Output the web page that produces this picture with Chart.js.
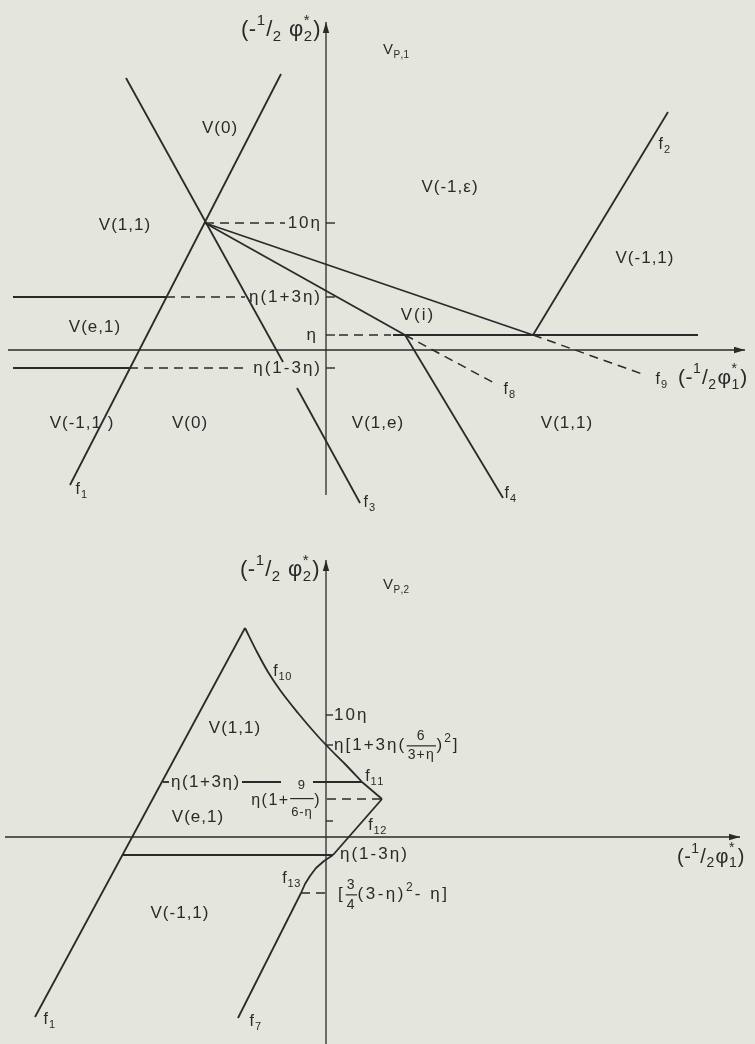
<!DOCTYPE html>
<html><head><meta charset="utf-8">
<script src="https://cdn.jsdelivr.net/npm/chart.js@4.4.1/dist/chart.umd.min.js"></script>
<style>
html,body{margin:0;padding:0;background:#e4e5dd;}
#wrap{position:relative;width:755px;height:1044px;overflow:hidden;background:#e4e5dd;}
canvas{position:absolute;left:0;}
</style></head><body>
<div id="wrap">
<canvas id="c1" width="755" height="520" style="top:0px"></canvas>
<canvas id="c2" width="755" height="524" style="top:520px"></canvas>
</div>
<script>
// ===== Diagram 1 (V_P,1) : line data in diagram units =====
const p1AxisH = [[-31.8,0],[41.9,0]];
const p1AxisV = [[0,-14.5],[0,32.8]];
const p1F1 = [[-25.6,-13.5],[-4.5,27.6]];
const p1F3a = [[-20.0,27.2],[-4.3,-1.2]];
const p1F3b = [[-2.9,-3.8],[3.4,-15.3]];
const p1F9 = [[-12.1,12.7],[20.7,1.5]];
const p1F9dash = [[20.7,1.5],[31.9,-2.5]];
const p1F8 = [[-12.1,12.7],[7.9,1.5]];
const p1F8dash = [[7.9,1.5],[17.0,-3.4]];
const p1F4 = [[7.9,1.5],[17.7,-14.8]];
const p1F2 = [[20.7,1.5],[34.2,23.8]];
const p1Eta = [[6.7,1.5],[37.2,1.5]];
const p1EtaDash = [[1.3,1.5],[6.5,1.5]];
const p1Eta13p = [[-31.3,5.3],[-16.0,5.3]];
const p1Eta13pDash = [[-16.0,5.3],[-8.1,5.3]];
const p1Eta13m = [[-31.3,-1.8],[-19.7,-1.8]];
const p1Eta13mDash = [[-19.7,-1.8],[-8.3,-1.8]];
const p1TenEtaDash = [[-12.1,12.7],[-4.1,12.7]];
const p1TickLevels = [12.7, 5.3, 1.5, -1.8];
const p1TickLabels = ['10η', 'η(1+3η)', 'η', 'η(1-3η)'];
const p1Regions = ['V(0)', 'V(1,1)', 'V(-1,ε)', 'V(-1,1)', 'V(e,1)', 'V(i)', 'V(-1,1 )', 'V(0)', 'V(1,e)', 'V(1,1)'];
const p1Curves = ['f_{1}', 'f_{2}', 'f_{3}', 'f_{4}', 'f_{8}', 'f_{9}'];

// ===== Diagram 2 (V_P,2) =====
const p2AxisH = [[-32.1,0],[41.4,0]];
const p2AxisV = [[0,-20.7],[0,27.7]];
const p2F1 = [[-29.1,-18.0],[-8.1,20.9]];
const p2F10 = [[-8.1,20.9],[-6.9,18.5],[-5.8,16.5],[-4.6,14.7],[-2.8,12.4],[-1.1,10.4],[0.1,9.1],[1.9,7.3],[3.6,5.5]];
const p2F11 = [[3.6,5.5],[5.6,3.8]];
const p2F12 = [[5.6,3.8],[0.7,-1.8]];
const p2F13 = [[0.7,-1.8],[-0.2,-2.4],[-1.0,-3.1],[-1.6,-3.9],[-2.1,-4.7],[-2.5,-5.6]];
const p2F7 = [[-2.5,-5.6],[-8.8,-18.1]];
const p2Eta13pA = [[-16.3,5.5],[-15.7,5.5]];
const p2Eta13pB = [[-8.4,5.5],[-4.5,5.5]];
const p2Eta13pC = [[-1.3,5.5],[3.6,5.5]];
const p2Eta13m = [[-20.3,-1.8],[0.7,-1.8]];
const p2NineDash = [[0.1,3.8],[5.6,3.8]];
const p2LowDash = [[-2.5,-5.6],[0,-5.6]];
const p2TickLevels = [12.2, 9.2, 1.6];
const p2TickLabels = ['10η', 'η[1+3η(\\f{6}{3+η})^{2}]', 'η(1+3η)', 'η(1+\\f{9}{6-η})', 'η(1-3η)', '[\\f{3}{4}(3-η)^{2}- η]'];
const p2Regions = ['V(1,1)', 'V(e,1)', 'V(-1,1)'];
const p2Curves = ['f_{1}', 'f_{7}', 'f_{10}', 'f_{11}', 'f_{12}', 'f_{13}'];

const axisTitle2 = '(-^{1}/_{2} φ\\s{*}{2})';
const axisTitle1 = '(-^{1}/_{2}φ\\s{*}{1})';

// ===== styling =====
const FONT = '"Liberation Sans", "DejaVu Sans", sans-serif';
const INK = '#2a2a2a';

function pts(a){ return a.map(p => ({x:p[0], y:p[1]})); }
function ds(data, o){
  o = o || {};
  const d = {data: pts(data), showLine:true, pointRadius:0, pointHoverRadius:0,
    borderColor:INK, borderWidth:o.w || 1.8, borderDash:o.dash || [],
    tension:o.t || 0, fill:false, borderCapStyle:'butt', borderJoinStyle:'round'};
  if(o.mono) d.cubicInterpolationMode = 'monotone';
  return d;
}
const DASH = [9,6];

function parseRich(s){
  const out=[]; let buf=''; let i=0;
  const flush=()=>{ if(buf){ out.push({k:'t', a:buf}); buf=''; } };
  const grab=()=>{ let depth=0, start=i+1;
    for(; i<s.length; i++){ if(s[i]==='{') depth++; else if(s[i]==='}'){ depth--; if(depth===0){ const r=s.slice(start,i); i++; return r; } } }
    return s.slice(start); };
  while(i<s.length){
    const c=s[i];
    if((c==='_'||c==='^') && s[i+1]==='{'){ flush(); i++; out.push({k: c==='_'?'sub':'sup', a: grab()}); }
    else if(c==='\\' && (s[i+1]==='f'||s[i+1]==='s') && s[i+2]==='{'){ flush(); const k = s[i+1]==='f'?'frac':'stack'; i+=2; const a=grab(); const b=grab(); out.push({k, a, b}); }
    else { buf+=c; i++; }
  }
  flush(); return out;
}
function tw(ctx, str, ls){ let w=0; for(const ch of str) w += ctx.measureText(ch).width + ls; return w; }
function dt(ctx, str, x, y, ls){ for(const ch of str){ ctx.fillText(ch, x, y); x += ctx.measureText(ch).width + ls; } }

function drawRich(ctx, it, px, py){
  const S = it.s || 17, sm = Math.round(S*0.68), fr = Math.round(S*0.8);
  const ls = it.ls === undefined ? 1 : it.ls;
  const fu = it.fu || 0.5, fd = it.fd || 0.6;
  const f = sz => sz + 'px ' + FONT;
  const toks = parseRich(it.t);
  const widths = toks.map(tk => {
    if(tk.k==='t'){ ctx.font=f(S); return tw(ctx, tk.a, ls); }
    if(tk.k==='sub'||tk.k==='sup'){ ctx.font=f(sm); return tw(ctx, tk.a, ls*0.5)+1; }
    if(tk.k==='frac'){ ctx.font=f(fr); return Math.max(tw(ctx, tk.a, ls*0.6), tw(ctx, tk.b, ls*0.6))+3; }
    ctx.font=f(sm); return Math.max(tw(ctx, tk.a, 0), tw(ctx, tk.b, 0))+1;
  });
  const W = widths.reduce((a,b)=>a+b, 0);
  let x = it.a==='right' ? px-W : (it.a==='left' ? px : px-W/2);
  ctx.textBaseline='middle'; ctx.textAlign='left'; ctx.fillStyle=INK;
  toks.forEach((tk,j) => {
    const w = widths[j];
    if(tk.k==='t'){ ctx.font=f(S); dt(ctx, tk.a, x, py, ls); }
    else if(tk.k==='sub'){ ctx.font=f(sm); dt(ctx, tk.a, x, py+S*0.33, ls*0.5); }
    else if(tk.k==='sup'){ ctx.font=f(sm); dt(ctx, tk.a, x, py-S*0.4, ls*0.5); }
    else if(tk.k==='stack'){ ctx.font=f(sm); ctx.fillText(tk.a, x, py-S*0.42); ctx.fillText(tk.b, x, py+S*0.33); }
    else if(tk.k==='frac'){
      ctx.font=f(fr);
      const wa=tw(ctx, tk.a, ls*0.6), wb=tw(ctx, tk.b, ls*0.6);
      const ny=py-S*fu, dy=py+S*fd;
      dt(ctx, tk.a, x+(w-wa)/2, ny, ls*0.6); dt(ctx, tk.b, x+(w-wb)/2, dy, ls*0.6);
      ctx.fillRect(x+0.5, (ny+dy)/2-0.6, w-1, 1.2);
    }
    x += w;
  });
}

const richPlugin = {
  id:'richLabels',
  afterDatasetsDraw(chart, args, opts){
    const ctx=chart.ctx, sx=chart.scales.x, sy=chart.scales.y;
    ctx.save();
    (opts.items||[]).forEach(it => drawRich(ctx, it, sx.getPixelForValue(it.x), sy.getPixelForValue(it.y)));
    ctx.restore();
  }
};
const arrowPlugin = {
  id:'arrows',
  afterDatasetsDraw(chart, args, opts){
    const ctx=chart.ctx, sx=chart.scales.x, sy=chart.scales.y;
    ctx.save(); ctx.fillStyle=INK;
    (opts.items||[]).forEach(a => {
      const x0=sx.getPixelForValue(a[0][0]), y0=sy.getPixelForValue(a[0][1]);
      const x1=sx.getPixelForValue(a[1][0]), y1=sy.getPixelForValue(a[1][1]);
      const ang=Math.atan2(y1-y0, x1-x0), L=11, H=3.2;
      ctx.beginPath();
      ctx.moveTo(x1, y1);
      ctx.lineTo(x1-L*Math.cos(ang)+H*Math.sin(ang), y1-L*Math.sin(ang)-H*Math.cos(ang));
      ctx.lineTo(x1-L*Math.cos(ang)-H*Math.sin(ang), y1-L*Math.sin(ang)+H*Math.cos(ang));
      ctx.closePath(); ctx.fill();
    });
    ctx.restore();
  }
};

function makeChart(id, yMin, yMax, datasets, items, arrows){
  return new Chart(document.getElementById(id), {
    type:'scatter',
    data:{datasets},
    options:{
      responsive:false, animation:false, events:[],
      layout:{padding:0},
      scales:{
        x:{type:'linear', min:-32.6, max:42.9, display:false},
        y:{type:'linear', min:yMin, max:yMax, display:false}
      },
      plugins:{legend:{display:false}, tooltip:{enabled:false},
        richLabels:{items}, arrows:{items:arrows}}
    },
    plugins:[richPlugin, arrowPlugin]
  });
}

// ----- diagram 1 -----
const d1 = [
  ds(p1AxisH,{w:1.4}), ds(p1AxisV,{w:1.3}),
  ds(p1F1), ds(p1F3a), ds(p1F3b), ds(p1F9), ds(p1F8), ds(p1F4), ds(p1F2),
  ds(p1Eta), ds(p1Eta13p,{w:2}), ds(p1Eta13m,{w:2}),
  ds(p1F9dash,{w:1.5,dash:DASH}), ds(p1F8dash,{w:1.5,dash:DASH}),
  ds(p1EtaDash,{w:1.5,dash:DASH}), ds(p1Eta13pDash,{w:1.5,dash:DASH}),
  ds(p1Eta13mDash,{w:1.5,dash:DASH}), ds(p1TenEtaDash,{w:1.5,dash:DASH})
].concat(p1TickLevels.map(v => ds([[0,v],[0.9,v]],{w:1.4})));

const l1 = [
  {t:axisTitle2, x:-0.5, y:32.0, a:'right', s:22, ls:0.5},
  {t:'V_{P,1}', x:5.7, y:30.0, a:'left', s:15, ls:0.5},
  {t:p1Regions[0], x:-10.6, y:22.2},
  {t:p1Regions[1], x:-20.1, y:12.5},
  {t:p1Regions[2], x:12.4, y:16.3},
  {t:p1Regions[3], x:31.9, y:9.2},
  {t:p1Regions[4], x:-23.1, y:2.3},
  {t:p1Regions[5], x:9.2, y:3.5, ls:2},
  {t:p1Regions[6], x:-24.4, y:-7.3},
  {t:p1Regions[7], x:-13.6, y:-7.3},
  {t:p1Regions[8], x:5.2, y:-7.3},
  {t:p1Regions[9], x:24.1, y:-7.3},
  {t:p1Curves[0], x:-24.4, y:-14.0, s:16},
  {t:p1Curves[1], x:33.9, y:20.5, s:16},
  {t:p1Curves[2], x:4.4, y:-15.3, s:16},
  {t:p1Curves[3], x:18.5, y:-14.4, s:16},
  {t:p1Curves[4], x:18.4, y:-4.0, s:16},
  {t:p1Curves[5], x:33.6, y:-3.0, s:16},
  {t:axisTitle1, x:35.2, y:-2.8, a:'left', s:21, ls:0.5},
  {t:p1TickLabels[0], x:-0.4, y:p1TickLevels[0], a:'right', s:17, ls:2},
  {t:p1TickLabels[1], x:-0.4, y:p1TickLevels[1], a:'right', s:17, ls:2},
  {t:p1TickLabels[2], x:-0.8, y:p1TickLevels[2], a:'right', s:17, ls:2},
  {t:p1TickLabels[3], x:-0.4, y:p1TickLevels[3], a:'right', s:17, ls:2}
];
makeChart('c1', -17.0, 35.0, d1, l1, [p1AxisH, p1AxisV]);

// ----- diagram 2 -----
const d2 = [
  ds(p2AxisH,{w:1.4}), ds(p2AxisV,{w:1.3}),
  ds(p2F1), ds(p2F10,{mono:true}), ds(p2F11), ds(p2F12), ds(p2F13), ds(p2F7),
  ds(p2Eta13pA), ds(p2Eta13pB), ds(p2Eta13pC), ds(p2Eta13m,{w:2}),
  ds(p2NineDash,{w:1.5,dash:DASH}), ds(p2LowDash,{w:1.5,dash:DASH})
].concat(p2TickLevels.map(v => ds([[0,v],[0.7,v]],{w:1.4})));

const l2 = [
  {t:axisTitle2, x:-0.6, y:26.7, a:'right', s:22, ls:0.5},
  {t:'V_{P,2}', x:5.7, y:25.2, a:'left', s:15, ls:0.5},
  {t:p2Curves[2], x:-4.3, y:16.5, s:16},
  {t:p2Regions[0], x:-9.1, y:10.9},
  {t:p2TickLabels[0], x:0.8, y:p2TickLevels[0], a:'left', s:17, ls:2},
  {t:p2TickLabels[1], x:0.8, y:p2TickLevels[1], a:'left', s:17, ls:2},
  {t:p2TickLabels[2], x:-15.5, y:5.5, a:'left', s:17, ls:1.5},
  {t:p2TickLabels[3], x:-0.5, y:3.6, a:'right', s:16, fu:1.0, fd:0.7, ls:1.5},
  {t:p2Regions[1], x:-12.8, y:2.0},
  {t:p2Curves[3], x:4.9, y:6.0, s:16},
  {t:p2Curves[4], x:5.2, y:1.1, s:16},
  {t:p2TickLabels[4], x:1.4, y:-1.7, a:'left', s:17, ls:2},
  {t:p2Curves[5], x:-3.4, y:-4.2, s:16},
  {t:p2TickLabels[5], x:1.2, y:-5.7, a:'left', s:17, fu:0.55, fd:0.65, ls:2.5},
  {t:p2Regions[2], x:-14.6, y:-7.6},
  {t:p2Curves[0], x:-27.6, y:-18.3, s:16},
  {t:p2Curves[1], x:-7.0, y:-18.5, s:16},
  {t:axisTitle1, x:35.1, y:-2.0, a:'left', s:20, ls:0.5}
];
makeChart('c2', -20.7, 31.7, d2, l2, [p2AxisH, p2AxisV]);
</script>
</body></html>
